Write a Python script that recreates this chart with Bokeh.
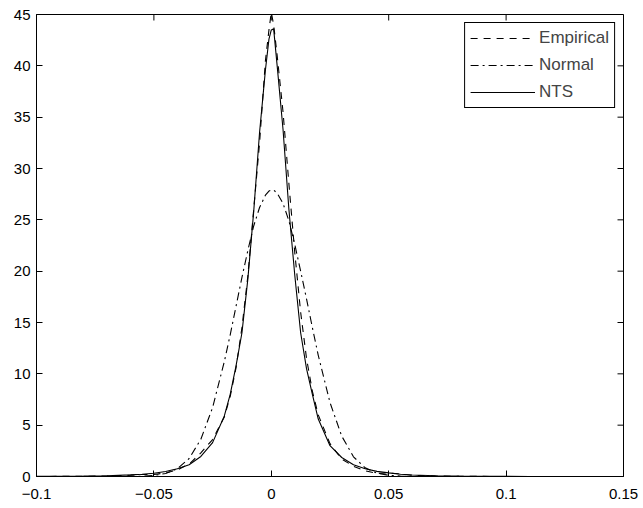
from bokeh.plotting import figure
from bokeh.models import Range1d, FixedTicker, Legend, LegendItem
from bokeh.embed import file_html
from bokeh.resources import INLINE

# ---- data ----
x_vals = [-0.1, -0.09, -0.08, -0.07, -0.06, -0.055, -0.05, -0.045, -0.04, -0.035,
          -0.03, -0.025, -0.02, -0.0175, -0.015, -0.0125, -0.01, -0.0075, -0.005,
          -0.0025, -0.001, 0.0, 0.001, 0.0025, 0.005, 0.0075, 0.01, 0.0125, 0.015,
          0.0175, 0.02, 0.025, 0.03, 0.035, 0.04, 0.045, 0.05, 0.055, 0.06, 0.07,
          0.08, 0.09, 0.1, 0.11, 0.12, 0.13, 0.14, 0.15]

empirical = [0.0, 0.01, 0.02, 0.05, 0.12, 0.2, 0.2, 0.35, 0.65, 1.2,
             2.3, 3.6, 5.8, 7.8, 10.6, 14.5, 19.5, 26.0, 32.5,
             40.5, 43.5, 45.2, 44.0, 41.0, 35.5, 28.5, 21.8, 16.0, 11.5,
             8.3, 6.0, 3.2, 1.7, 1.0, 0.55, 0.3, 0.35, 0.25, 0.12, 0.05,
             0.02, 0.01, 0.0, 0.0, 0.0, 0.0, 0.0, 0.0]

normal = [0.0, 0.0, 0.0, 0.0, 0.01, 0.03, 0.1, 0.29, 0.76, 1.75,
          3.63, 6.72, 11.2, 13.8, 16.6, 19.4, 22.0, 24.4, 26.2,
          27.4, 27.8, 27.9, 27.9, 27.6, 26.6, 24.9, 22.6, 20.0, 17.3,
          14.5, 11.8, 7.2, 3.93, 1.92, 0.84, 0.33, 0.12, 0.04, 0.01, 0.0,
          0.0, 0.0, 0.0, 0.0, 0.0, 0.0, 0.0, 0.0]

nts = [0.01, 0.02, 0.04, 0.08, 0.16, 0.22, 0.32, 0.48, 0.75, 1.15,
       1.95, 3.3, 5.9, 8.0, 10.8, 14.0, 19.2, 25.8, 33.5,
       39.6, 42.6, 43.5, 43.6, 40.0, 33.8, 26.0, 19.6, 14.0, 10.5,
       8.0, 5.6, 3.0, 1.85, 1.15, 0.75, 0.5, 0.35, 0.22, 0.15, 0.08,
       0.04, 0.02, 0.01, 0.005, 0.0, 0.0, 0.0, 0.0]

x_ticks = [-0.1, -0.05, 0.0, 0.05, 0.1, 0.15]
x_tick_labels = ["\u22120.1", "\u22120.05", "0", "0.05", "0.1", "0.15"]
y_ticks = [0, 5, 10, 15, 20, 25, 30, 35, 40, 45]
series_names = ["Empirical", "Normal", "NTS"]

FONT = "Liberation Sans"
X_MIN, X_MAX = x_ticks[0], x_ticks[-1]
Y_MIN, Y_MAX = y_ticks[0], y_ticks[-1]

W, H = 643, 508
BL, BR, BT, BB = 36, 20, 14, 32
FRAME_W = W - BL - BR
FRAME_H = H - BT - BB
TICK_PX = 6

p = figure(width=W, height=H, x_range=Range1d(X_MIN, X_MAX), y_range=Range1d(Y_MIN, Y_MAX),
           output_backend="svg", toolbar_location=None,
           min_border_left=BL, min_border_right=BR, min_border_top=BT, min_border_bottom=BB)
p.grid.visible = False
p.outline_line_color = "black"
p.outline_line_width = 1
p.outline_line_alpha = 1.0
p.background_fill_color = "white"
p.border_fill_color = "white"


def style_axis(ax, ticks, standoff):
    ax.ticker = FixedTicker(ticks=ticks)
    ax.minor_tick_line_color = None
    ax.major_tick_in = TICK_PX
    ax.major_tick_out = 0
    ax.major_tick_line_color = "black"
    ax.major_tick_line_width = 1
    ax.axis_line_color = "black"
    ax.axis_line_width = 1
    ax.major_label_text_font = FONT
    ax.major_label_text_color = "black"
    ax.major_label_text_font_size = "15px"
    ax.major_label_standoff = standoff


style_axis(p.xaxis[0], x_ticks, 12)
p.xaxis[0].major_label_overrides = {t: lab for t, lab in zip(x_ticks, x_tick_labels)}
style_axis(p.yaxis[0], y_ticks, 6)

# inward ticks on the top and right edges of the box (MATLAB "box on")
dy = TICK_PX * (Y_MAX - Y_MIN) / FRAME_H
dx = TICK_PX * (X_MAX - X_MIN) / FRAME_W
p.segment(x0=x_ticks, y0=[Y_MAX] * len(x_ticks), x1=x_ticks, y1=[Y_MAX - dy] * len(x_ticks),
          line_color="black", line_width=1)
p.segment(x0=[X_MAX] * len(y_ticks), y0=y_ticks, x1=[X_MAX - dx] * len(y_ticks), y1=y_ticks,
          line_color="black", line_width=1)

r_emp = p.line(x_vals, empirical, line_color="black", line_width=1.1, line_dash="7 6")
r_norm = p.line(x_vals, normal, line_color="black", line_width=1.1, line_dash="8 4 2 4")
r_nts = p.line(x_vals, nts, line_color="black", line_width=1.1)

legend = Legend(items=[LegendItem(label=series_names[0], renderers=[r_emp]),
                       LegendItem(label=series_names[1], renderers=[r_norm]),
                       LegendItem(label=series_names[2], renderers=[r_nts])],
                location="top_right", margin=8, padding=5, spacing=7,
                glyph_height=16, glyph_width=65, label_height=16, label_standoff=4,
                label_text_font=FONT, label_text_font_size="17px",
                border_line_color="black", border_line_width=1, border_line_alpha=1.0,
                background_fill_color="white", background_fill_alpha=1.0)
p.add_layout(legend)

open("out.html", "w").write(file_html(p, INLINE))
